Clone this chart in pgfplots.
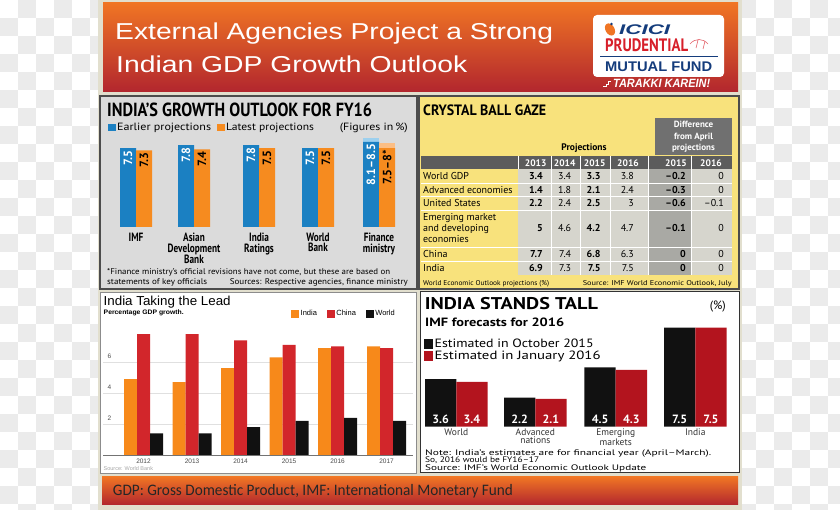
\documentclass[border=0pt]{standalone}
\usepackage{pgfplots}
\pgfplotsset{compat=1.18}
\usepackage{graphicx}
\usepackage{fontspec}
\setmainfont{PT Sans}
\newfontfamily\lib{Liberation Sans}
\newfontfamily\carl{Carlito}
\newfontfamily\cond{PT Sans}[FakeStretch=0.77]
\definecolor{beige}{HTML}{E2DFCE}
\definecolor{hdrtop}{HTML}{F07524}
\definecolor{hdrbot}{HTML}{B2262E}
\definecolor{p1bg}{HTML}{DBDBDB}
\definecolor{bblue}{HTML}{1B80C2}
\definecolor{borange}{HTML}{F68B1F}
\definecolor{lblue}{HTML}{9DD0EE}
\definecolor{lorange}{HTML}{FBBE85}
\definecolor{yel}{HTML}{F8E27C}
\definecolor{cell}{HTML}{D6D5CD}
\definecolor{cellD}{HTML}{A9A9A4}
\definecolor{hdbar}{HTML}{5C5C5C}
\definecolor{diffbk}{HTML}{707070}
\definecolor{india}{HTML}{F7891A}
\definecolor{china}{HTML}{D2262B}
\definecolor{world}{HTML}{111111}
\definecolor{tallred}{HTML}{B3141E}
\definecolor{icblue}{HTML}{143C7C}
\definecolor{icred}{HTML}{D71F2A}
\definecolor{checker}{HTML}{EBEBEB}
\newcommand{\fw}[2]{\resizebox{#1}{\height}{#2}}
\begin{document}
\begin{tikzpicture}[x=1pt,y=1pt]
\useasboundingbox (0,0) rectangle (840,510);
\fill[white] (0,0) rectangle (840,510);
\begin{scope}
\clip (0,0) rectangle (98,510) (742,0) rectangle (840,510);
\foreach \i in {0,1,2,3,4,5,41,42,43,44,45,46}{
  \foreach \j in {0,...,28}{
    \pgfmathtruncatemacro\odd{mod(\i+\j,2)}
    \ifnum\odd=1 \fill[checker] ({18*\i},{510-18*\j}) rectangle ({18*\i+18},{510-18*\j-18}); \fi
  }
}
\end{scope}
\fill[beige] (98,0) rectangle (742,510);
\shade[top color=hdrtop, bottom color=hdrbot] (103,507) rectangle (738,418);
\shade[top color=hdrtop, bottom color=hdrbot] (102,33) rectangle (738,5);

\begin{scope}[shift={(0,510)}, yscale=-1]
% header
\node[anchor=base west, text=white, inner sep=0] at (115,39.5) {\fw{438pt}{\lib\fontsize{23}{23}\selectfont External Agencies Project a Strong}};
\node[anchor=base west, text=white, inner sep=0] at (116,72.5) {\fw{351pt}{\lib\fontsize{23}{23}\selectfont Indian GDP Growth Outlook}};
% logo
\fill[white, rounded corners=4pt] (593,15) rectangle (724,77);
\fill[hdrtop, rotate around={-30:(610,29.5)}] (610,29.5) ellipse (4.5 and 6.5);
\fill[icblue] (611.5,24) circle (1.3);
\node[anchor=base west, inner sep=0, text=icblue] at (619,35) {\fw{51pt}{\lib\bfseries\itshape\fontsize{14}{14}\selectfont ICICI}};
\node[anchor=base west, inner sep=0, text=icred] at (605,52) {\fw{83pt}{\bfseries\fontsize{18}{18}\selectfont PRUDENTIAL}};
\draw[icred!70, line width=0.6pt] (690,44) .. controls (695,38) and (703,38) .. (708,44) (696,48) -- (698,40) (703,49) -- (705,41);
\draw[icblue, line width=0.8pt] (600,56.5) -- (718,56.5);
\node[anchor=base west, inner sep=0, text=icblue] at (605,72) {\fw{107pt}{\lib\bfseries\fontsize{14}{14}\selectfont MUTUAL FUND}};
\draw[white, line width=1pt] (603,87) -- (606,87) -- (606,84.5) -- (608.5,84.5) -- (608.5,82) -- (611,82);
\node[anchor=base west, inner sep=0, text=white] at (613,87.5) {\fw{97pt}{\lib\bfseries\itshape\fontsize{12}{12}\selectfont TARAKKI KAREIN!}};

% panel 1
\fill[p1bg] (100,96) rectangle (417,289);
\draw[black!70, line width=1.2pt] (100,96) rectangle (417,289);
\node[anchor=base west, inner sep=0] at (107,116.7) {\fw{265pt}{\bfseries\fontsize{19}{19}\selectfont INDIA'S GROWTH OUTLOOK FOR FY16}};
\node[anchor=base east, inner sep=0] at (408,131) {\fw{68pt}{\fontsize{10.5}{10}\selectfont (Figures in\,\%)}};
\node[anchor=base west, inner sep=0] at (107,274.5) {\fw{283pt}{\fontsize{8.3}{8}\selectfont *Finance ministry's official revisions have not come, but these are based on}};
\node[anchor=base west, inner sep=0] at (107,285) {\fw{100pt}{\fontsize{8.3}{8}\selectfont statements of key officials}};
\node[anchor=base east, inner sep=0] at (408,285) {\fw{178pt}{\fontsize{8.3}{8}\selectfont Sources: Respective agencies, finance ministry}};

% panel 2
\fill[yel] (419,96) rectangle (739,289);
\draw[black!70, line width=1.2pt] (419,96) rectangle (739,289);
\node[anchor=base west, inner sep=0] at (423,115.7) {\fw{123pt}{\bfseries\fontsize{15}{15}\selectfont CRYSTAL BALL GAZE}};
\fill[diffbk] (655,117.7) rectangle (732,155);
\node[text=white, align=center, font=\bfseries\fontsize{9}{11.3}\selectfont] at (693.5,136.8) {Difference\\from April\\projections};
\node[font=\bfseries\fontsize{9.5}{10}\selectfont] at (584,148) {Projections};
\fill[hdbar] (421,156) rectangle (732,169);
\fill[cell] (518,169) rectangle (648,275);
\fill[cellD] (648,169) rectangle (691,275);
\fill[cell] (691,169) rectangle (732,275);
\foreach \yy in {183,196.5,210,247,261} \draw[white, line width=0.8pt] (421,\yy) -- (732,\yy);
\foreach \xx in {551,580,610,648,691} \draw[white, line width=0.6pt] (\xx,156) -- (\xx,275);
\draw[white, line width=0.6pt] (518,156) -- (518,169);
\foreach \xx/\t in {535.7/2013,564.7/2014,594.7/2015,628/2016,676/2015,711/2016}
  \node[text=white, font=\bfseries\fontsize{9.5}{10}\selectfont] at (\xx,162.8) {\t};
\foreach \yy/\nm in {176/World GDP,190/Advanced economies,203.3/United States,254.3/China,267.7/India}
  \node[anchor=west, inner sep=0, font=\fontsize{10}{10}\selectfont] at (423,\yy) {\nm};
\node[anchor=west, inner sep=0, align=left, font=\fontsize{10}{10.8}\selectfont] at (423,228.3) {Emerging market\\and developing\\economies};
\foreach \yy/\a/\b/\c/\d/\e/\f in {176/3.4/3.4/3.3/3.8/{–0.2}/0, 190/1.4/1.8/2.1/2.4/{–0.3}/0, 203.3/2.2/2.4/2.5/3/{–0.6}/{–0.1}, 228.3/5/4.6/4.2/4.7/{–0.1}/0, 254.3/7.7/7.4/6.8/6.3/0/0, 267.7/6.9/7.3/7.5/7.5/0/0}{
  \node[anchor=east, inner sep=0, font=\bfseries\fontsize{10}{10}\selectfont] at (543,\yy) {\a};
  \node[anchor=east, inner sep=0, font=\fontsize{10}{10}\selectfont] at (571.3,\yy) {\b};
  \node[anchor=east, inner sep=0, font=\bfseries\fontsize{10}{10}\selectfont] at (600.7,\yy) {\c};
  \node[anchor=east, inner sep=0, font=\fontsize{10}{10}\selectfont] at (634,\yy) {\d};
  \node[anchor=east, inner sep=0, font=\bfseries\fontsize{10}{10}\selectfont] at (686,\yy) {\e};
  \node[anchor=east, inner sep=0, font=\fontsize{10}{10}\selectfont] at (724,\yy) {\f};
}
\node[anchor=base west, inner sep=0] at (423,285.5) {\fw{126pt}{\fontsize{7}{7}\selectfont World Economic Outlook projections (\%)}};
\node[anchor=base east, inner sep=0] at (732,285.5) {\fw{149pt}{\fontsize{7}{7}\selectfont Source: IMF World Economic Outlook, July}};

% panel 3
\fill[white] (100,292) rectangle (416,473);
\draw[black!45, line width=0.9pt] (100,292) rectangle (416,473);
\node[anchor=base west, inner sep=0] at (103.5,305.5) {\fw{127pt}{\lib\fontsize{13}{13}\selectfont India Taking the Lead}};
\node[anchor=base west, inner sep=0] at (103.5,315) {\fw{80pt}{\lib\bfseries\fontsize{6.5}{7}\selectfont Percentage GDP growth.}};
\node[anchor=base west, inner sep=0, text=black!35] at (103.5,471) {\lib\fontsize{5.5}{6}\selectfont Source: World Bank};

% panel 4
\fill[white] (420,292) rectangle (739,473);
\draw[black!80, line width=1pt] (420,292) rectangle (739,473);
\node[anchor=base west, inner sep=0] at (424.7,310) {\fw{173pt}{\bfseries\fontsize{17}{17}\selectfont INDIA STANDS TALL}};
\node[anchor=base east, inner sep=0] at (726,309.5) {\fontsize{12}{12}\selectfont (\%)};
\node[anchor=base west, inner sep=0] at (425,326.5) {\fw{139pt}{\bfseries\fontsize{12}{12}\selectfont IMF forecasts for 2016}};
\node[anchor=base west, inner sep=0] at (425,455.5) {\fw{286pt}{\fontsize{8}{8}\selectfont Note: India's estimates are for financial year (April–March).}};
\node[anchor=base west, inner sep=0] at (425,463) {\fw{114pt}{\fontsize{8}{8}\selectfont So, 2016 would be FY16–17}};
\node[anchor=base west, inner sep=0] at (425,470.7) {\fw{221pt}{\fontsize{8}{8}\selectfont Source: IMF's World Economic Outlook Update}};

% bottom banner text
\node[anchor=base west, inner sep=0, text=black!85] at (112.7,495.5) {\fw{400pt}{\carl\fontsize{16}{16}\selectfont GDP: Gross Domestic Product, IMF: International Monetary Fund}};
\end{scope}

% ---------- Axis 1: India's growth outlook ----------
\begin{axis}[
 at={(105pt,283pt)}, anchor=south west, scale only axis,
 width=300pt, height=94.5pt,
 xmin=105, xmax=405, ymin=0, ymax=9,
 axis line style={draw=none}, tick style={draw=none},
 ytick=\empty,
 xtick={136,194,259,318,379},
 xticklabels={IMF,{Asian\\Development\\Bank},{India\\Ratings},{World\\Bank},{Finance\\ministry}},
 xticklabel style={align=center, font=\cond\bfseries\fontsize{12}{10.8}\selectfont, anchor=north, inner sep=0pt, yshift=-5.5pt},
 clip=false,
 legend style={at={(axis description cs:0.0,1.051)}, anchor=west, draw=none, fill=none, legend columns=2, font=\fontsize{10.5}{10}\selectfont, /tikz/every even column/.append style={column sep=4pt}},
 legend cell align=left,
]
\addplot[ybar, bar width=16pt, bar shift=-8pt, fill=lblue, draw=none, forget plot] coordinates {(379,8.5)};
\addplot[ybar, bar width=16pt, bar shift=-8pt, fill=bblue, draw=none, forget plot]
 coordinates {(136,7.5) (194,7.8) (259,7.8) (318,7.5) (379,8.1)};
\addplot[ybar, bar width=16pt, bar shift=8pt, fill=lorange, draw=none, forget plot] coordinates {(379,8.0)};
\addplot[ybar, bar width=16pt, bar shift=8pt, fill=borange, draw=none, forget plot]
 coordinates {(136,7.3) (194,7.4) (259,7.5) (318,7.5) (379,7.5)};
% value labels (x = group centre -/+ half a bar)
\addplot[draw=none, mark=none, forget plot, nodes near coords, point meta=explicit symbolic, every node near coord/.append style={rotate=90, anchor=east, text=white, font=\bfseries\fontsize{12}{12}\selectfont, inner xsep=2pt}]
 coordinates {(128,7.5)[7.5] (186,7.8)[7.8] (251,7.8)[7.8] (310,7.5)[7.5] (371,8.1)[8.1–8.5]};
\addplot[draw=none, mark=none, forget plot, nodes near coords, point meta=explicit symbolic, every node near coord/.append style={rotate=90, anchor=east, text=black, font=\bfseries\fontsize{12}{12}\selectfont, inner xsep=2pt}]
 coordinates {(144,7.3)[7.3] (202,7.4)[7.4] (267,7.5)[7.5] (326,7.5)[7.5] (387,7.5)[7.5–8*]};
\addlegendimage{legend image code/.code={\fill[bblue] (0pt,-3pt) rectangle (6.5pt,3.5pt);}}
\addlegendentry{\fw{94pt}{Earlier projections}}
\addlegendimage{legend image code/.code={\fill[borange] (0pt,-3pt) rectangle (6.5pt,3.5pt);}}
\addlegendentry{\fw{88pt}{Latest projections}}
\end{axis}

% ---------- Axis 3: India taking the lead ----------
\begin{axis}[
 at={(103pt,55pt)}, anchor=south west, scale only axis,
 width=310pt, height=131.75pt,
 xmin=103, xmax=413, ymin=0, ymax=8.5,
 axis line style={draw=none}, tick style={draw=none},
 ytick={2,4,6}, yticklabels={2,4,6}, ymajorgrids,
 grid style={draw=black!12, line width=0.5pt},
 yticklabel style={anchor=south west, font=\lib\fontsize{6.5}{7}\selectfont, text=black!70, xshift=1pt},
 extra y ticks={0}, extra y tick labels={},
 extra y tick style={grid style={draw=black!55, line width=0.8pt}},
 xtick={143.5,192,240.5,289,337.5,386.5},
 xticklabels={2012,2013,2014,2015,2016,2017},
 xticklabel style={font=\lib\fontsize{6.5}{7}\selectfont, text=black!70},
 clip=false,
 legend style={at={(axis description cs:0.597,1.0755)}, anchor=west, draw=none, fill=none, legend columns=3, font=\lib\fontsize{7.5}{7}\selectfont, /tikz/every even column/.append style={column sep=8pt}},
]
\addplot[ybar, bar width=13pt, bar shift=-13pt, fill=india, draw=none, forget plot]
 coordinates {(143.5,4.9) (192,4.7) (240.5,5.6) (289,6.3) (337.5,6.9) (386.5,7.0)};
\addplot[ybar, bar width=13pt, bar shift=0pt, fill=china, draw=none, forget plot]
 coordinates {(143.5,7.8) (192,7.8) (240.5,7.4) (289,7.1) (337.5,7.0) (386.5,6.9)};
\addplot[ybar, bar width=13pt, bar shift=13pt, fill=world, draw=none, forget plot]
 coordinates {(143.5,1.4) (192,1.4) (240.5,1.8) (289,2.2) (337.5,2.4) (386.5,2.2)};
\addlegendimage{legend image code/.code={\fill[india] (0pt,-3.5pt) rectangle (7pt,3.5pt);}}
\addlegendentry{India}
\addlegendimage{legend image code/.code={\fill[china] (0pt,-3.5pt) rectangle (7pt,3.5pt);}}
\addlegendentry{China}
\addlegendimage{legend image code/.code={\fill[world] (0pt,-3.5pt) rectangle (7pt,3.5pt);}}
\addlegendentry{World}
\end{axis}

% ---------- Axis 4: India stands tall ----------
\begin{axis}[
 at={(421pt,83.3pt)}, anchor=south west, scale only axis,
 width=316pt, height=105.6pt,
 xmin=421, xmax=737, ymin=0, ymax=8,
 axis line style={draw=none}, tick style={draw=none}, ytick=\empty,
 xtick={456.3,535.3,615.7,695.3},
 xticklabels={World,{Advanced\\nations},{Emerging\\markets},India},
 xticklabel style={align=center, font=\fontsize{9.5}{8}\selectfont, text=black!80, inner sep=0pt, yshift=-2pt, anchor=north},
 clip=false,
 legend style={at={(axis description cs:0.0,0.726)}, anchor=west, draw=none, fill=none, legend columns=1, font=\fontsize{12}{12}\selectfont, row sep=-2pt},
 legend cell align=left,
]
\addplot[ybar, bar width=31.3pt, bar shift=-15.65pt, fill=world, draw=none, forget plot]
 coordinates {(456.3,3.6) (535.3,2.2) (615.7,4.5) (695.3,7.5)};
\addplot[ybar, bar width=31.3pt, bar shift=15.65pt, fill=tallred, draw=none, forget plot]
 coordinates {(456.3,3.4) (535.3,2.1) (615.7,4.3) (695.3,7.5)};
% value labels at the foot of each bar
\addplot[draw=none, mark=none, forget plot, nodes near coords, point meta=explicit symbolic, every node near coord/.append style={anchor=base, text=white, font=\bfseries\fontsize{12}{12}\selectfont, yshift=3.5pt}]
 coordinates {(440.65,0)[3.6] (519.65,0)[2.2] (600.05,0)[4.5] (679.65,0)[7.5]};
\addplot[draw=none, mark=none, forget plot, nodes near coords, point meta=explicit symbolic, every node near coord/.append style={anchor=base, text=white, font=\bfseries\fontsize{12}{12}\selectfont, yshift=3.5pt}]
 coordinates {(471.95,0)[3.4] (550.95,0)[2.1] (631.35,0)[4.3] (710.95,0)[7.5]};
\addlegendimage{legend image code/.code={\fill[world] (0pt,-4.5pt) rectangle (8pt,4.5pt);}}
\addlegendentry{\fw{159pt}{Estimated in October 2015}}
\addlegendimage{legend image code/.code={\fill[tallred] (0pt,-4.5pt) rectangle (8pt,4.5pt);}}
\addlegendentry{\fw{166pt}{Estimated in January 2016}}
\end{axis}
\end{tikzpicture}
\end{document}
